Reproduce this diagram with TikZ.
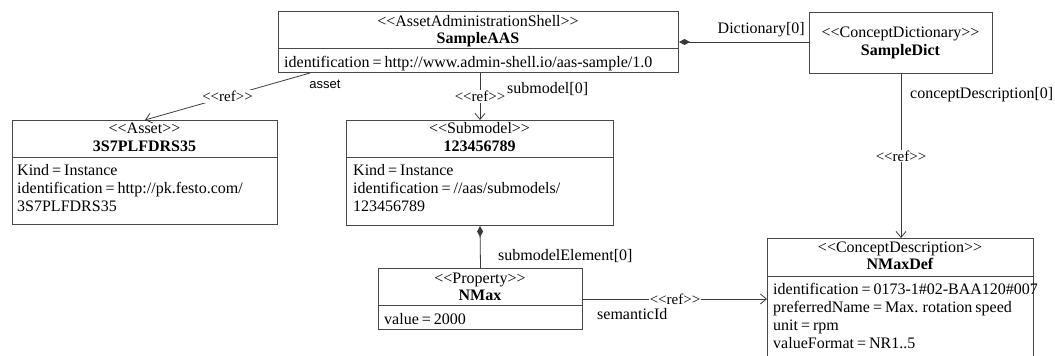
\documentclass[tikz,border=0pt]{standalone}
\usepackage{fontspec}
\setmainfont{Liberation Serif}[Ligatures=TeXOff, WordSpace=0.75]
\newfontfamily\rolesans{Liberation Sans}
\usetikzlibrary{arrows.meta,calc}
\definecolor{boxgray}{HTML}{474747}
\definecolor{linegray}{HTML}{3A3A3A}
\newcommand\ster[1]{<<#1>>}
\begin{document}
\begin{tikzpicture}[x=1pt,y=-1pt,
  font=\fontsize{16}{18}\selectfont,
  box/.style={draw=boxgray, line width=1pt, fill=white, inner sep=0pt, anchor=north west},
  txt/.style={inner sep=0pt, anchor=base},
  txtl/.style={inner sep=0pt, anchor=base west},
  txtr/.style={inner sep=0pt, anchor=base east},
  rule/.style={draw=boxgray, line width=1pt},
  conn/.style={draw=linegray, line width=0.8pt},
  refarrow/.style={conn, -{Straight Barb[length=6pt,width=10pt,line width=0.8pt]}},
  comp/.style={conn, {Diamond[length=11pt,width=6pt]}-},
  reflabel/.style={fill=white, inner sep=1pt, font=\fontsize{15}{17}\selectfont},
]
\useasboundingbox (0,0) rectangle (1055,356);

% ---- class boxes ----
\node[box, minimum width=400pt, minimum height=61pt] (aas) at (278,11) {};
\node[box, minimum width=183pt, minimum height=61pt] (dict) at (809,12) {};
\node[box, minimum width=265pt, minimum height=104pt] (asset) at (12,120) {};
\node[box, minimum width=267pt, minimum height=105pt] (subm) at (346,120) {};
\node[box, minimum width=204pt, minimum height=61pt] (prop) at (378,268) {};
\node[box, minimum width=266pt, minimum height=125pt] (cdesc) at (767,238) {};

% ---- compartment dividers ----
\draw[rule] ($(aas.north west)+(0,37)$) -- ($(aas.north east)+(0,37)$);
\draw[rule] ($(asset.north west)+(0,37)$) -- ($(asset.north east)+(0,37)$);
\draw[rule] ($(subm.north west)+(0,37)$) -- ($(subm.north east)+(0,37)$);
\draw[rule] ($(prop.north west)+(0,37)$) -- ($(prop.north east)+(0,37)$);
\draw[rule] ($(cdesc.north west)+(0,38)$) -- ($(cdesc.north east)+(0,38)$);

% ---- SampleAAS ----
\node[txt] (aas-st) at (478,26) {\ster{AssetAdministrationShell}};
\node[txt] (aas-nm) at (478,43) {\textbf{SampleAAS}};
\node[txtl] (aas-id) at (284,67) {identification = http://www.admin-shell.io/aas-sample/1.0};

% ---- SampleDict ----
\node[txt] (dict-st) at (900.5,37) {\ster{ConceptDictionary}};
\node[txt] (dict-nm) at (900.5,55) {\textbf{SampleDict}};

% ---- 3S7PLFDRS35 ----
\node[txt] (asset-st) at (144.5,133) {\ster{Asset}};
\node[txt] (asset-nm) at (144.5,151) {\textbf{3S7PLFDRS35}};
\node[txtl] (asset-a1) at (17,175) {Kind = Instance};
\node[txtl] (asset-a2) at (17,193) {identification = http://pk.festo.com/};
\node[txtl] (asset-a3) at (17,211) {3S7PLFDRS35};

% ---- 123456789 ----
\node[txt] (subm-st) at (479.5,133) {\ster{Submodel}};
\node[txt] (subm-nm) at (479.5,151) {\textbf{123456789}};
\node[txtl] (subm-a1) at (353,175) {Kind = Instance};
\node[txtl] (subm-a2) at (353,193) {identification = //aas/submodels/};
\node[txtl] (subm-a3) at (353,211) {123456789};

% ---- NMax ----
\node[txt] (prop-st) at (480,283) {\ster{Property}};
\node[txt] (prop-nm) at (480,300) {\textbf{NMax}};
\node[txtl] (prop-a1) at (384,324) {value = 2000};

% ---- NMaxDef ----
\node[txt] (cdesc-st) at (900,252) {\ster{ConceptDescription}};
\node[txt] (cdesc-nm) at (900,269) {\textbf{NMaxDef}};
\node[txtl] (cdesc-a1) at (773,294) {identification = 0173-1\#02-BAA120\#007};
\node[txtl] (cdesc-a2) at (773,312) {preferredName = Max. rotation speed};
\node[txtl] (cdesc-a3) at (773,330) {unit = rpm};
\node[txtl] (cdesc-a4) at (773,348) {valueFormat = NR1..5};

% ---- connectors ----
\draw[comp] (aas.east) -- (aas.east -| dict.west);
\node[txtr] (lbl-dict) at (805,33) {Dictionary[0]};

\draw[refarrow] ($(aas.south west)+(32,0)$) -- node[reflabel] (ref-asset) {\ster{ref}} (asset.north);
\node[anchor=center, inner sep=0pt, font=\rolesans\fontsize{13}{15}\selectfont] (lbl-asset) at (325,84) {asset};

\draw[refarrow] (aas.south -| subm.north) -- node[reflabel] (ref-subm) {\ster{ref}} (subm.north);
\node[txtl] (lbl-subm) at (507,93) {submodel[0]};

\draw[comp] (subm.south) -- (prop.north);
\node[txtl] (lbl-elem) at (498,260) {submodelElement[0]};

\draw[refarrow] (prop.east) -- node[reflabel] (ref-sem) {\ster{ref}} (prop.east -| cdesc.west);
\node[txtl] (lbl-sem) at (597,319) {semanticId};

\draw[refarrow] (dict.south) -- node[reflabel] (ref-cd) {\ster{ref}} (dict.south |- cdesc.north);
\node[txtl] (lbl-cd) at (910,98) {conceptDescription[0]};
\end{tikzpicture}
\end{document}
